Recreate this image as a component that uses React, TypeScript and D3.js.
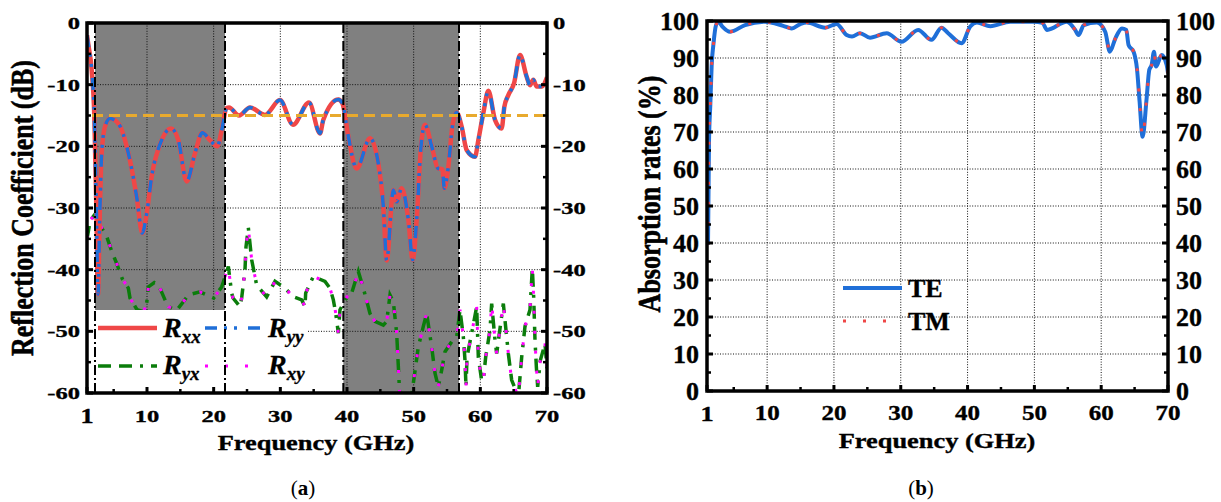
import * as d3 from 'd3'

// (a) co-polar reflection (Rxx and Ryy overlap in the figure)
const freqR = [1.0, 1.2, 1.7, 2.1, 2.4, 2.65, 2.9, 3.2, 3.7, 4.45, 5.7, 7.2, 8.45, 9.3, 9.95, 10.7, 12.2, 13.6, 14.7, 15.95,
  17.2, 18.3, 19.45, 20.55, 21.2, 21.95, 22.3, 23.8, 25.45, 27.7, 29.95, 31.9, 34.3, 35.95, 36.45, 38.7, 39.3, 40.2, 41.45,
  43.45, 44.7, 45.45, 45.95, 46.95, 47.45, 48.2, 49.2, 49.85, 50.45, 51.1, 51.7, 52.7, 53.7, 54.3, 54.6, 55.2, 55.8, 56.45,
  57.2, 57.95, 59.2, 59.7, 60.45, 61.2, 62.2, 63.2, 63.6, 64.2, 65.05, 65.95, 66.95, 67.45, 67.95, 68.45, 69.2, 70]
const rxx = [-2, -3.5, -7.6, -15.2, -30, -44, -32, -21.1, -16.8, -15.5, -16.3, -21.1, -28.2, -34.1, -30.9, -24.9, -19, -17.1, -19, -25.7,
  -21.1, -17.8, -19, -20, -17.4, -13.8, -13.7, -15, -13.7, -14.9, -12.5, -16.5, -12.9, -17.9, -15.7, -12.4, -13, -18.4, -23.6,
  -18.7, -22.8, -29.8, -38.5, -27.1, -29, -26.8, -31.9, -38.4, -31.9, -20, -16.5, -20, -23.6, -23.7, -26.8, -23.3, -16.8, -14.5,
  -16.8, -20.6, -21.7, -19, -14.6, -11, -15.7, -17.1, -13.6, -11.7, -9.8, -5.2, -8.7, -10.1, -9.2, -10.3, -10.3, -8.8]
const ryy = rxx

// (a) cross-polar reflection (Ryx and Rxy overlap)
const freqC = [1.0, 1.5, 2.2, 2.8, 3.95, 4.7, 5.45, 6.3, 7.2, 7.45, 8.5, 9.5, 9.95, 10.2, 11.1, 11.7, 12.7, 13.2, 14.45, 15.45,
  16.2, 17.95, 18.95, 20, 21.2, 21.45, 22.2, 22.7, 22.9, 23.95, 24.2, 24.7, 24.85, 25.2, 25.7, 26.45, 27.95, 29.2, 30.7, 31.95,
  33.2, 33.7, 33.8, 34.95, 36.7, 37.45, 37.95, 38.3, 38.7, 38.95, 40, 40.7, 41.7, 42.45, 43.45, 44.2, 45.45, 45.95, 46.45, 46.95,
  47.45, 47.7, 47.85, 48.0, 48.5, 49.5, 50.0, 50.7, 51.45, 51.95, 52.7, 53.2, 53.7, 54.2, 54.7, 55.7, 56.45, 56.95, 57.45, 57.7,
  57.85, 58.0, 58.7, 59.45, 59.7, 60.2, 60.45, 60.8, 61.45, 61.7, 62.2, 62.45, 63.45, 64.2, 64.7, 65.7, 66.2, 66.7, 67.45, 67.7,
  67.8, 68.0, 68.2, 68.4, 68.6, 69.0, 69.7, 70]
const ryx = [-35, -32, -31, -32.5, -34.6, -37, -39, -41.5, -43, -44.6, -46.5, -46.8, -45.5, -42.8, -42.1, -42.4, -44.9, -46, -46.6, -45.2,
  -44.1, -43.6, -44.1, -44.6, -42.8, -42, -39.5, -43.8, -44.6, -46, -44.6, -40, -36.3, -33.2, -38.4, -42.5, -44.4, -41.9, -43, -44.4,
  -44.9, -46, -43.8, -41.1, -41.9, -43, -44.9, -47, -50.3, -46.5, -44.4, -43.8, -40.3, -43, -47.1, -48.4, -49, -48.4, -44.1, -45.2,
  -50.3, -55.7, -59, -62, -63, -62, -58, -52.5, -49.2, -47.1, -52.5, -56.8, -59, -56.3, -53.3, -51.7, -50.9, -46.5, -50.9, -54.7,
  -59, -54.2, -50.3, -46, -54.2, -58, -57.9, -54.2, -49.8, -45.5, -51.4, -53.6, -45.5, -53.6, -57.9, -60.6, -54.2, -49.2, -46.5, -41.7,
  -39.8, -44.4, -51.4, -55.7, -59, -54.7, -52, -56]
const rxy = ryx

const bands = [[2.2, 21.7], [39.45, 56.8]]
const threshold = -15

// (b) absorption (TE and TM overlap)
const freqA = [1.15, 1.3, 1.5, 1.7, 1.95, 2.35, 2.7, 3.3, 4.45, 6.7, 9.7, 12.4, 13.7, 14.9, 15.9, 18.7, 20.4, 21.9, 22.7, 23.9,
  25.4, 27.9, 30.1, 32.6, 34.6, 36.1, 37.1, 39.1, 40.4, 41.4, 43.4, 46.4, 49.9, 51.2, 51.9, 54.85, 56.1, 56.6, 57.4, 59.35,
  60.6, 61.3, 62.1, 63.1, 63.75, 64.1, 64.85, 65.35, 65.75, 66.2, 66.8, 67.2, 67.55, 67.9, 68.2, 69.05, 69.8, 70]
const absTE = [39.5, 67.4, 77.5, 88.1, 93.5, 98.9, 99.8, 98.5, 97.1, 98.9, 99.8, 98.7, 98, 99.1, 99.6, 98.2, 99.2, 96.2, 95.8, 96.7,
  95.5, 96.7, 94.4, 97.6, 94.9, 98.2, 96.7, 94, 98.5, 99.6, 98.6, 99.8, 99.8, 99.5, 97.6, 99.8, 97.6, 96.2, 98.9, 99.6,
  97.1, 91.7, 95.2, 98, 97.6, 93.5, 91.7, 87.2, 78.2, 68.7, 79.1, 86.8, 88.1, 91.7, 87.7, 90.8, 88.1, 85.9]
const absTM = absTE

const xTicks = [1, 10, 20, 30, 40, 50, 60, 70]
const xMinor = [5, 15, 25, 35, 45, 55, 65]
const dbTicks = [0, -10, -20, -30, -40, -50, -60]
const dbMinor = [-5, -15, -25, -35, -45, -55]
const absTicks = [0, 10, 20, 30, 40, 50, 60, 70, 80, 90, 100]
const absMinor = [5, 15, 25, 35, 45, 55, 65, 75, 85, 95]

const FONT = '"Liberation Serif","Times New Roman",serif'
const RED = '#ef4747'
const BLUE = '#1f6fd8'
const GREEN = '#0b7d0b'
const MAGENTA = '#ff00ff'
const ORANGE = '#e8aa2e'

const Txt = ({x, y, size, sx = 1, sy = 1, rot = 0, anchor = 'middle', dy = '0', heavy = 0.35, children}: any) => (
  <text transform={`translate(${x},${y}) rotate(${rot}) scale(${sx},${sy})`} fontSize={size} fontFamily={FONT}
    fontWeight="bold" textAnchor={anchor} dy={dy} fill="#000" stroke="#000" strokeWidth={heavy}>{children}</text>
)

const zip = (xs: number[], ys: number[]) => xs.map((x, i) => [x, ys[i]] as [number, number])

export default function App() {
  const xa = d3.scaleLinear().domain([1, 70]).range([87, 547])
  const ya = d3.scaleLinear().domain([-60, 0]).range([393, 23])
  const xb = d3.scaleLinear().domain([1, 70]).range([707, 1168])
  const yb = d3.scaleLinear().domain([0, 100]).range([391, 21])

  const smoothA = d3.line<[number, number]>().x(d => xa(d[0])).y(d => ya(d[1])).curve(d3.curveMonotoneX)
  const rawA = d3.line<[number, number]>().x(d => xa(d[0])).y(d => ya(d[1]))
  const smoothB = d3.line<[number, number]>().x(d => xb(d[0])).y(d => yb(d[1])).curve(d3.curveMonotoneX)

  const [ax0, ax1] = xa.range()
  const [ay1, ay0] = ya.range()
  const [bx0, bx1] = xb.range()
  const [by1, by0] = yb.range()

  const grid = {stroke: '#111', strokeWidth: 1, strokeDasharray: '1 1.6'}

  const axisTicks = (x0: number, x1: number, y0: number, y1: number, xs: any, ys: any,
    xMaj: number[], xMin: number[], yMaj: number[], yMin: number[]) => (
    <g stroke="#000">
      {xMaj.map(v => <line key={'xm' + v} x1={xs(v)} x2={xs(v)} y1={y1} y2={y1 - 6} strokeWidth={3} />)}
      {xMin.map(v => <line key={'xn' + v} x1={xs(v)} x2={xs(v)} y1={y1} y2={y1 - 4} strokeWidth={2.5} />)}
      {yMaj.map(v => <g key={'ym' + v}>
        <line x1={x0} x2={x0 + 6} y1={ys(v)} y2={ys(v)} strokeWidth={3} />
        <line x1={x1} x2={x1 - 6} y1={ys(v)} y2={ys(v)} strokeWidth={3} />
      </g>)}
      {yMin.map(v => <g key={'yn' + v}>
        <line x1={x0} x2={x0 + 4} y1={ys(v)} y2={ys(v)} strokeWidth={2.5} />
        <line x1={x1} x2={x1 - 4} y1={ys(v)} y2={ys(v)} strokeWidth={2.5} />
      </g>)}
      <rect x={x0} y={y0} width={x1 - x0} height={y1 - y0} fill="none" strokeWidth={3.5} />
    </g>
  )

  return (
    <svg width={1221} height={502} style={{position: 'absolute', left: 0, top: 0, background: '#fff'}}>
      <defs>
        <clipPath id="clipA"><rect x={ax0} y={ay0} width={ax1 - ax0} height={ay1 - ay0} /></clipPath>
        <clipPath id="clipB"><rect x={bx0} y={by0} width={bx1 - bx0} height={by1 - by0} /></clipPath>
      </defs>

      {/* ---------- (a) ---------- */}
      {bands.map((b, i) => <rect key={i} x={xa(b[0])} y={ay0} width={xa(b[1]) - xa(b[0])} height={ay1 - ay0} fill="#808080" />)}
      {xTicks.slice(1, -1).map(v => <line key={v} x1={xa(v)} x2={xa(v)} y1={ay0} y2={ay1} {...grid} />)}
      {dbTicks.slice(1, -1).map(v => <line key={v} x1={ax0} x2={ax1} y1={ya(v)} y2={ya(v)} {...grid} />)}

      <g clipPath="url(#clipA)" fill="none">
        <path d={rawA(zip(freqC, ryx))!} stroke={GREEN} strokeWidth={3.5} strokeDasharray="13 8 13 8 3 8" />
        <path d={rawA(zip(freqC, rxy))!} stroke={MAGENTA} strokeWidth={3} strokeDasharray="3 17" />
        <path d={smoothA(zip(freqR, rxx))!} stroke={RED} strokeWidth={4.5} strokeLinejoin="round" />
        <path d={smoothA(zip(freqR, ryy))!} stroke={BLUE} strokeWidth={3.5} strokeDasharray="12 7 3 7 3 11" />
      </g>
      <line x1={92} x2={ax1} y1={ya(threshold)} y2={ya(threshold)} stroke={ORANGE} strokeWidth={3} strokeDasharray="11 6" />

      {/* legend (a) */}
      <rect x={95} y={310} width={212} height={ay1 - 310} fill="#fff" />
      <line x1={98} x2={157} y1={328} y2={328} stroke={RED} strokeWidth={4.5} />
      <line x1={205} x2={262} y1={328} y2={328} stroke={BLUE} strokeWidth={3.5} strokeDasharray="12 7 3 7 3 11" />
      <line x1={98} x2={157} y1={366} y2={366} stroke={GREEN} strokeWidth={3.5} strokeDasharray="13 8 13 8 3 8" />
      <line x1={205} x2={262} y1={366} y2={366} stroke={MAGENTA} strokeWidth={3} strokeDasharray="3 17" />
      {[['xx', 163, 337], ['yy', 268, 337], ['yx', 163, 374], ['xy', 268, 374]].map(([s, x, y]) => (
        <text key={s as string} x={x as number} y={y as number} fontFamily={FONT} fontWeight="bold" fontStyle="italic"
          fontSize={28} stroke="#000" strokeWidth={0.3}>
          R<tspan fontSize={19} dy={6}>{s}</tspan>
        </text>
      ))}

      {bands.map((b, i) => <g key={i} stroke="#000" strokeWidth={2} strokeDasharray="10 3 2 3">
        <line x1={xa(b[0])} x2={xa(b[0])} y1={ay0} y2={ay1} />
        <line x1={xa(b[1])} x2={xa(b[1])} y1={ay0} y2={ay1} />
      </g>)}
      {axisTicks(ax0, ax1, ay0, ay1, xa, ya, xTicks, xMinor, dbTicks, dbMinor)}

      {dbTicks.map(v => <g key={v}>
        <Txt x={80} y={ya(v)} size={17.5} sx={1.4} anchor="end" dy="0.35em">{v}</Txt>
        <Txt x={553} y={ya(v)} size={17.5} sx={1.4} anchor="start" dy="0.35em">{v}</Txt>
      </g>)}
      {xTicks.map(v => v === 1
        ? <Txt key={v} x={xa(v)} y={423} size={21} sx={1.25}>{v}</Txt>
        : <Txt key={v} x={xa(v)} y={422} size={17.5} sx={1.4}>{v}</Txt>)}
      <Txt x={316} y={450} size={22} sx={1.2}>Frequency (GHz)</Txt>
      <Txt x={33} y={208} size={26} rot={-90} sy={1.2} heavy={0.5}>Reflection Coefficient (dB)</Txt>
      <text x={303} y={495} fontFamily={FONT} fontSize={21} textAnchor="middle">(<tspan fontWeight="bold">a</tspan>)</text>

      {/* ---------- (b) ---------- */}
      {xTicks.slice(1, -1).map(v => <line key={v} x1={xb(v)} x2={xb(v)} y1={by0} y2={by1} {...grid} />)}
      {absTicks.slice(1, -1).map(v => <line key={v} x1={bx0} x2={bx1} y1={yb(v)} y2={yb(v)} {...grid} />)}
      <g clipPath="url(#clipB)" fill="none">
        <path d={smoothB(zip(freqA, absTE))!} stroke={BLUE} strokeWidth={4} strokeLinejoin="round" />
        <path d={smoothB(zip(freqA, absTM))!} stroke={RED} strokeWidth={3} strokeDasharray="3 17" />
      </g>
      <line x1={843} x2={902} y1={288} y2={288} stroke={BLUE} strokeWidth={4} />
      <line x1={843} x2={902} y1={321} y2={321} stroke={RED} strokeWidth={3} strokeDasharray="3 17" />
      <Txt x={908} y={297} size={26} anchor="start">TE</Txt>
      <Txt x={908} y={330} size={26} anchor="start">TM</Txt>

      {axisTicks(bx0, bx1, by0, by1, xb, yb, xTicks, xMinor, absTicks, absMinor)}
      {absTicks.map(v => <g key={v}>
        <Txt x={699} y={yb(v)} size={26} anchor="end" dy="0.35em">{v}</Txt>
        <Txt x={1176} y={yb(v)} size={26} anchor="start" dy="0.35em">{v}</Txt>
      </g>)}
      {xTicks.map(v => v === 1
        ? <Txt key={v} x={xb(v)} y={421} size={22} sx={1.2}>{v}</Txt>
        : <Txt key={v} x={xb(v)} y={420} size={20} sx={1.25}>{v}</Txt>)}
      <Txt x={937} y={448} size={22} sx={1.2}>Frequency (GHz)</Txt>
      <Txt x={660} y={194} size={26} rot={-90} sy={1.2} heavy={0.5}>Absorption rates (%)</Txt>
      <text x={921} y={495} fontFamily={FONT} fontSize={21} textAnchor="middle">(<tspan fontWeight="bold">b</tspan>)</text>
    </svg>
  )
}
